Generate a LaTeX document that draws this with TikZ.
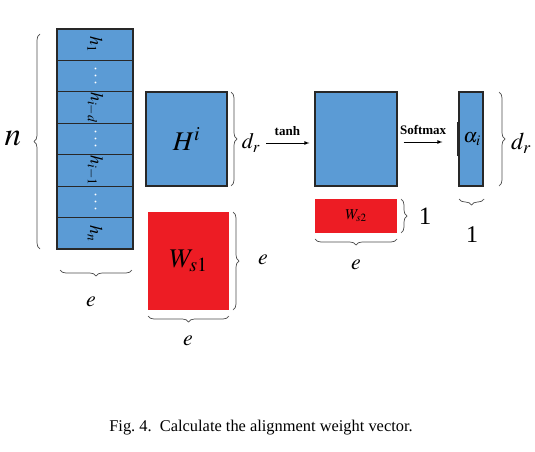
\documentclass[tikz,border=0pt]{standalone}
\usepackage{mathptmx}
\usepackage{fontspec}
\setmainfont{Liberation Serif}
\usetikzlibrary{decorations.pathreplacing}

\definecolor{cellblue}{RGB}{91,155,213}
\definecolor{wred}{RGB}{237,28,36}
\definecolor{edgegray}{RGB}{40,40,40}

\tikzset{
  bluebox/.style={draw=edgegray, line width=1.1pt, fill=cellblue, inner sep=0pt},
  redbox/.style={fill=wred, inner sep=0pt},
  dimbrace/.style={decorate, decoration={brace, amplitude=6pt}, draw=black!70, line width=0.7pt},
  dimlabel/.style={inner sep=0pt, font=\fontsize{22}{24}\selectfont},
  oplabel/.style={inner sep=1pt, font=\bfseries\fontsize{13}{15}\selectfont},
  celllabel/.style={rotate=-90, inner sep=0pt, font=\fontsize{18}{20}\selectfont}
}

\begin{document}
\begin{tikzpicture}[x=1pt, y=-1pt]
\useasboundingbox (0,0) rectangle (535,452);

% Stack of hidden states h_1 ... h_n
\foreach \lab [count=\k] in {$h_1$, \textcolor{white}{$\cdots$}, $h_{i-d}$, \textcolor{white}{$\cdots$}, $h_{i-1}$, \textcolor{white}{$\cdots$}, $h_n$} {
  \node[bluebox, minimum width=76pt, minimum height=31.4pt] (h\k) at (95,{29+31.43*\k-15.71}) {};
  \node[celllabel] at (h\k) {\lab};
}
\draw[dimbrace] (40,249) -- (40,34);
\node[font=\fontsize{33}{35}\selectfont] (n) at (13,139) {$n$};
\draw[dimbrace] (132,270) -- (60,270);
\node[dimlabel] (e1) at (91,302) {$e$};

% H^i
\node[bluebox, minimum width=81pt, minimum height=94pt, font=\fontsize{27}{29}\selectfont] (Hi) at (186.5,139) {$H^i$};
\draw[dimbrace] (231,92) -- (231,186);
\node[dimlabel] (dr1) at (251,143) {$d_r$};

% W_s1
\node[redbox, minimum width=81pt, minimum height=98pt, font=\fontsize{27}{29}\selectfont] (Ws1) at (188.5,261) {$W_{s1}$};
\draw[dimbrace] (233,212) -- (233,310);
\node[dimlabel] (e2) at (263,260) {$e$};
\draw[dimbrace] (229,316) -- (148,316);
\node[dimlabel] (e3) at (188,341) {$e$};

% tanh output
\node[bluebox, minimum width=82pt, minimum height=94pt] (mid) at (356,139) {};
\draw[-latex, line width=0.8pt, shorten <=6pt, shorten >=5pt] (dr1.east) -- (dr1.east -| mid.west)
  node[oplabel, midway, above=6pt] {tanh};

% W_s2
\node[redbox, minimum width=82pt, minimum height=34pt, font=\fontsize{15}{17}\selectfont] (Ws2) at (356,216) {$W_{s2}$};
\draw[dimbrace] (401,199) -- (401,233);
\node[font=\fontsize{25}{27}\selectfont, inner sep=0pt] (one1) at (425,216) {1};
\draw[dimbrace] (397,239) -- (315,239);
\node[dimlabel] (e4) at (356,265) {$e$};

% alpha_i
\node[bluebox, minimum width=24pt, minimum height=94pt, font=\fontsize{20}{22}\selectfont] (alpha) at (471,139) {\hspace{2pt}$\alpha_i$};
\draw[line width=2.2pt, edgegray] ([yshift=-17pt]alpha.west) -- ([yshift=17pt]alpha.west);
\draw[line width=1.4pt, edgegray] ([yshift=-17pt]alpha.east) -- ([yshift=17pt]alpha.east);
\draw[-latex, line width=0.8pt, shorten <=6pt, shorten >=16pt] ([yshift=-3pt]mid.east) -- ([yshift=-3pt]alpha.west)
  node[oplabel, pos=0.42, above=6pt] {Softmax};
\draw[dimbrace] (499,92) -- (499,186);
\node[font=\fontsize{24}{26}\selectfont, inner sep=0pt] (dr2) at (521,143) {$d_r$};
\draw[dimbrace] (484,199) -- (459,199);
\node[font=\fontsize{24}{26}\selectfont, inner sep=0pt] (one2) at (472,235) {1};

% Caption
\node[font=\fontsize{16.4}{18}\selectfont] (cap) at (261,428) {Fig.~4.\ \ Calculate the alignment weight vector.};
\end{tikzpicture}
\end{document}
